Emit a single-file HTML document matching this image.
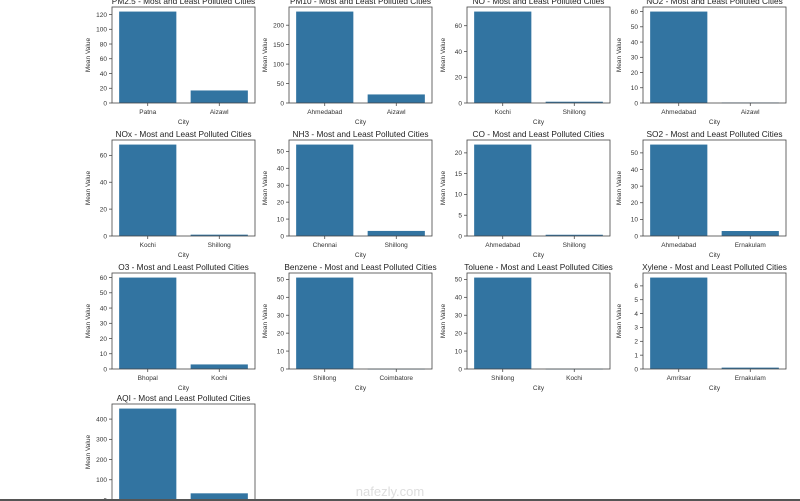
<!DOCTYPE html>
<html><head><meta charset="utf-8">
<style>
html,body{margin:0;padding:0;background:#fff;}
svg{display:block;font-family:"Liberation Sans",sans-serif;}
</style></head>
<body>
<svg id="chart" width="800" height="501" viewBox="0 0 800 501"></svg>
<script>
const pollutants = ["PM2.5","PM10","NO","NO2","NOx","NH3","CO","SO2","O3","Benzene","Toluene","Xylene","AQI"];
const mostCities = ["Patna","Ahmedabad","Kochi","Ahmedabad","Kochi","Chennai","Ahmedabad","Ahmedabad","Bhopal","Shillong","Shillong","Amritsar",""];
const leastCities = ["Aizawl","Aizawl","Shillong","Aizawl","Shillong","Shillong","Shillong","Ernakulam","Kochi","Coimbatore","Kochi","Ernakulam",""];
const mostValues = [124,235,71,60,68,54,22,55,60,51,51,6.6,452];
const leastValues = [17,22,1,0.3,1,3,0.3,3,3,0.1,0.1,0.1,33];
const tickSteps = [20,50,20,10,20,10,5,10,10,10,10,1,100];

const NS="http://www.w3.org/2000/svg";
const svg=document.getElementById("chart");
function mk(tag,attrs,parent){const e=document.createElementNS(NS,tag);for(const k in attrs)e.setAttribute(k,attrs[k]);(parent||svg).appendChild(e);return e;}

const colLeft=[112,289,467,643], axW=143, rowTop=[7,140,273,404], axH=96;

pollutants.forEach((p,i)=>{
  const L=colLeft[i%4], T=rowTop[Math.floor(i/4)], B=T+axH;
  const g=mk("g",{});
  
  
  const ymax=Math.max(mostValues[i],leastValues[i])*1.05;
  const y=v=>B-v/ymax*axH;
  const x=v=>L+(v+0.5)/2*axW;
  const vals=[mostValues[i],leastValues[i]], cats=[mostCities[i],leastCities[i]];
  vals.forEach((v,j)=>{
    const r=mk("rect",{x:x(j-0.4),y:y(v),width:x(j+0.4)-x(j-0.4),height:Math.max(B-y(v),0.6),fill:"#3274a1"},g);
    
    
    mk("line",{x1:x(j),x2:x(j),y1:B,y2:B+3,stroke:"#333","stroke-width":0.7},g);
    if(cats[j]){const t=mk("text",{x:x(j),y:B+11,"font-size":6.5,"text-anchor":"middle",fill:"#333"},g);t.textContent=cats[j];
    }
  });
  for(let v=0;v<=ymax;v+=tickSteps[i]){
    const yy=y(v);
    mk("line",{x1:L-3,x2:L,y1:yy,y2:yy,stroke:"#333","stroke-width":0.7},g);
    const t=mk("text",{x:L-5,y:yy+2.3,"font-size":6.5,"text-anchor":"end",fill:"#333"},g);t.textContent=v;
    
  }
  const fr=mk("rect",{x:L,y:T,width:axW,height:axH,fill:"none",stroke:"#444","stroke-width":0.8},g);
  
  const tt=mk("text",{x:L+axW/2,y:T-3,"font-size":8.3,"text-anchor":"middle",fill:"#222"},g);
  tt.textContent=p+" - Most and Least Polluted Cities";
  
  const xl=mk("text",{x:L+axW/2,y:B+21,"font-size":6.5,"text-anchor":"middle",fill:"#333"},g);xl.textContent="City";
  
  const yl=mk("text",{x:0,y:0,"font-size":6.5,"text-anchor":"middle",fill:"#333",transform:`translate(${L-22},${T+axH/2}) rotate(-90)`},g);yl.textContent="Mean Value";
  
});
const wm=mk("text",{x:390,y:496,"font-size":13,"text-anchor":"middle",fill:"#ddd"});wm.textContent="nafezly.com";

const bl=mk("rect",{x:0,y:499,width:800,height:2,fill:"#555"});

</script>
</body></html>
